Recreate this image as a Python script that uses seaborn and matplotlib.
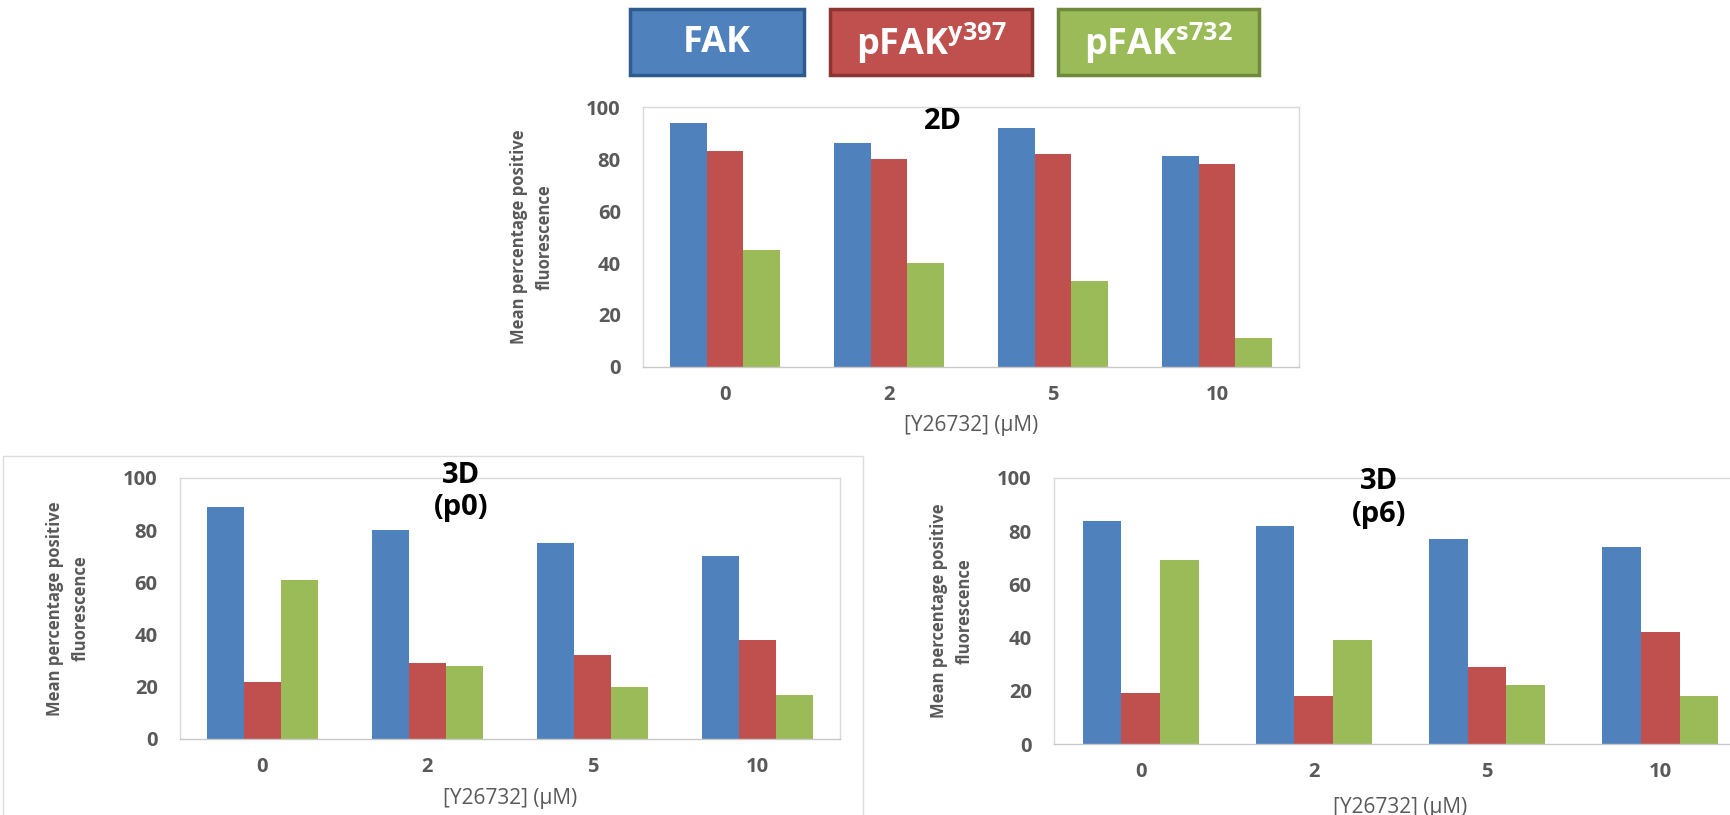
import matplotlib.pyplot as plt
import matplotlib.patches as mpatches
import pandas as pd
import seaborn as sns

#########################
#         DATA          #
#########################
doses = ['0', '2', '5', '10']
markers = ['FAK', 'pFAKy397', 'pFAKs732']
legend_labels = ['FAK', r'pFAK$^{\mathregular{y397}}$', r'pFAK$^{\mathregular{s732}}$']

# 2D
fak_2d = [94, 86, 92, 81]
y397_2d = [83, 80, 82, 78]
s732_2d = [45, 40, 33, 11]

# 3D (p0)
fak_p0 = [89, 80, 75, 70]
y397_p0 = [22, 29, 32, 38]
s732_p0 = [61, 28, 20, 17]

# 3D (p6)
fak_p6 = [84, 82, 77, 74]
y397_p6 = [19, 18, 29, 42]
s732_p6 = [69, 39, 22, 18]

colors = ['#4F81BD', '#C0504D', '#9BBB59']
edge_colors = ['#2E5B8F', '#8C3532', '#6F8A3C']
grey = '#595959'

sns.set_style('white')
plt.rcParams['font.family'] = ['Open Sans', 'DejaVu Sans']


def make_df(fak, y397, s732):
    return pd.DataFrame({'dose': doses * 3,
                         'marker': [m for m in markers for _ in doses],
                         'value': fak + y397 + s732})


def panel(ax, df, title, title_xy, ylab_x, xlab_y):
    sns.barplot(data=df, x='dose', y='value', hue='marker', order=doses,
                hue_order=markers, palette=colors, width=0.67, saturation=1,
                linewidth=0, legend=False, ax=ax)
    ax.set_ylim(0, 100)
    ax.set_yticks(range(0, 101, 20))
    ax.tick_params(axis='both', length=0, labelsize=14.5, labelcolor=grey)
    ax.tick_params(axis='x', pad=13)
    ax.tick_params(axis='y', pad=16)
    for lab in ax.get_xticklabels() + ax.get_yticklabels():
        lab.set_fontweight('bold')
    for s in ax.spines.values():
        s.set_color('#D9D9D9')
        s.set_linewidth(1)
    ax.spines['bottom'].set_color('#C8C8C8')
    ax.set_ylabel('Mean percentage positive\nfluorescence', fontsize=12,
                  fontweight='bold', color=grey, linespacing=1.55)
    ax.yaxis.set_label_coords(ylab_x, 0.5)
    ax.set_xlabel('[Y26732] (µM)', fontsize=15, color=grey)
    ax.xaxis.set_label_coords(0.5, xlab_y)
    ax.text(title_xy[0], title_xy[1], title, transform=ax.transAxes,
            ha='center', va='top', fontsize=21, fontweight='bold',
            color='black', linespacing=1.15)


fig = plt.figure(figsize=(17.3, 8.15), dpi=100)

# outer frame of the lower-left chart
fig.patches.append(mpatches.Rectangle((3 / 1730, -0.01), 860 / 1730, 1 - 456 / 815 + 0.01,
                                      transform=fig.transFigure, fill=False,
                                      edgecolor='#DDDDDD', linewidth=1))

ax_2d = fig.add_axes([0.3717, 0.5497, 0.3792, 0.319])
ax_p0 = fig.add_axes([0.1040, 0.0933, 0.3815, 0.3202])
ax_p6 = fig.add_axes([0.6092, 0.0871, 0.4006, 0.3264])

panel(ax_2d, make_df(fak_2d, y397_2d, s732_2d), '2D', (0.457, 1.0), -0.136, -0.185)
panel(ax_p0, make_df(fak_p0, y397_p0, s732_p0), '3D\n(p0)', (0.426, 1.065), -0.137, -0.188)
panel(ax_p6, make_df(fak_p6, y397_p6, s732_p6), '3D\n(p6)', (0.469, 1.04), -0.116, -0.2)

# legend boxes along the top
boxes = [(630, 804), (830, 1032), (1058, 1259)]
for (x0, x1), lab, fc, ec in zip(boxes, legend_labels, colors, edge_colors):
    fig.patches.append(mpatches.Rectangle((x0 / 1730, 1 - 75 / 815), (x1 - x0) / 1730, 66 / 815,
                                          transform=fig.transFigure, facecolor=fc,
                                          edgecolor=ec, linewidth=2.5))
    fig.text((x0 + x1) / 2 / 1730, 1 - 43 / 815, lab, ha='center', va='center',
             fontsize=26, fontweight='bold', color='white')

fig.savefig('out.png', dpi=100)
